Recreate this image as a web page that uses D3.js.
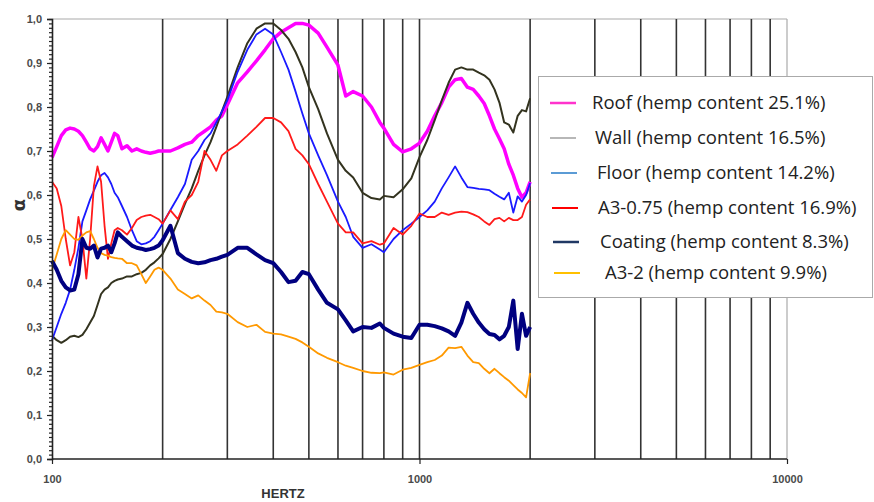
<!DOCTYPE html>
<html><head><meta charset="utf-8">
<script src="https://cdn.jsdelivr.net/npm/d3@7"></script>
<style>body{margin:0;background:#fff}svg{display:block}</style>
</head><body><svg id="c" width="874" height="502"></svg>
<script>
const freqs = [100,103,106,109,112,115,118,121,124,127,130,133,136,139,142,145,148,151,
 155,160,165,170,175,180,185,190,195,200,
 210,220,230,240,250,260,270,280,290,300,
 320,340,360,380,400,420,440,460,480,500,
 530,560,600,630,660,700,740,780,800,850,900,950,1000,
 1050,1100,1150,1200,1250,1300,1350,1400,1450,1500,1550,1600,1650,1700,1750,1800,1850,1900,1950,2000];
const roof = [.685,.71,.735,.748,.752,.75,.745,.735,.72,.705,.70,.71,.73,.715,.70,.72,.74,.735,
 .705,.712,.70,.705,.70,.697,.695,.697,.70,.70,
 .70,.707,.715,.72,.735,.745,.755,.77,.78,.805,
 .855,.88,.905,.93,.955,.97,.98,.99,.99,.986,
 .968,.936,.895,.825,.835,.825,.80,.765,.752,.715,.698,.705,.718,
 .745,.78,.81,.845,.862,.865,.845,.84,.825,.808,.78,.75,.728,.705,.67,.645,.615,.595,.605,.63];
const wall = [.28,.27,.264,.27,.278,.28,.277,.282,.295,.31,.325,.35,.375,.385,.39,.40,.405,.408,
 .41,.415,.415,.42,.423,.43,.44,.447,.456,.466,
 .50,.54,.58,.615,.655,.69,.72,.755,.79,.823,
 .89,.945,.978,.99,.99,.975,.955,.925,.89,.845,
 .795,.74,.68,.655,.64,.605,.593,.59,.598,.595,.613,.638,.686,
 .725,.77,.815,.855,.885,.89,.885,.885,.878,.872,.862,.84,.81,.765,.76,.742,.78,.793,.79,.82];
const floor = [.27,.30,.33,.355,.385,.43,.48,.54,.565,.59,.61,.63,.645,.65,.64,.625,.605,.595,
 .575,.55,.52,.495,.488,.49,.495,.505,.52,.535,
 .566,.595,.625,.68,.70,.725,.74,.765,.79,.815,
 .88,.93,.965,.978,.965,.925,.885,.835,.785,.74,
 .69,.645,.585,.55,.505,.48,.488,.476,.47,.50,.52,.535,.55,
 .565,.585,.615,.64,.665,.64,.618,.616,.614,.613,.611,.603,.596,.59,.605,.56,.597,.585,.60,.627];
const a3_075 = [.63,.615,.575,.50,.44,.47,.55,.50,.41,.50,.62,.665,.63,.53,.455,.49,.52,.525,
 .52,.51,.525,.543,.55,.553,.555,.55,.545,.535,
 .565,.545,.585,.60,.63,.70,.68,.655,.69,.70,
 .715,.735,.755,.775,.775,.765,.745,.705,.69,.67,
 .625,.585,.535,.515,.515,.49,.495,.487,.49,.525,.51,.53,.558,
 .55,.55,.56,.555,.56,.562,.561,.556,.55,.54,.532,.545,.548,.54,.548,.543,.543,.55,.578,.59];
const coating = [.45,.43,.405,.39,.383,.385,.42,.50,.48,.478,.485,.458,.478,.48,.485,.47,.49,.515,
 .505,.495,.485,.48,.478,.475,.477,.48,.485,.497,
 .53,.468,.455,.448,.445,.447,.452,.455,.46,.464,
 .48,.48,.465,.452,.445,.425,.402,.405,.425,.42,
 .385,.355,.34,.315,.29,.30,.298,.308,.298,.285,.278,.275,.305,
 .305,.302,.297,.29,.28,.31,.355,.33,.31,.295,.284,.282,.272,.28,.30,.36,.25,.33,.28,.30];
const a3_2 = [.43,.465,.50,.52,.51,.50,.498,.508,.515,.518,.50,.48,.468,.464,.462,.459,.457,.456,
 .455,.445,.445,.44,.42,.40,.415,.43,.435,.43,
 .41,.385,.375,.365,.372,.36,.35,.335,.333,.33,
 .311,.30,.305,.289,.285,.283,.278,.273,.265,.255,
 .24,.23,.22,.212,.207,.20,.196,.195,.197,.192,.203,.207,.214,
 .22,.225,.235,.253,.252,.255,.235,.22,.218,.205,.195,.205,.195,.186,.178,.168,.158,.15,.14,.195];

const seriesNames = ["Roof (hemp content 25.1%)","Wall (hemp content 16.5%)","Floor (hemp content 14.2%)",
 "A3-0.75 (hemp content 16.9%)","Coating (hemp content 8.3%)","A3-2 (hemp content 9.9%)"];
const yTicks = [0,0.1,0.2,0.3,0.4,0.5,0.6,0.7,0.8,0.9,1.0];
const xTicks = [100,1000,10000];
const gridFreqs = [200,300,400,500,600,700,800,900,1000,2000,3000,4000,5000,6000,7000,8000,9000];

const svg = d3.select("#c");
const x = d3.scaleLog().domain([100,10000]).range([52,787]);
const y = d3.scaleLinear().domain([0,1]).range([459,19]);

// frame
svg.append("line").attr("x1",52).attr("x2",787).attr("y1",19).attr("y2",19).attr("stroke","#aaa").attr("stroke-width",1.2);
svg.append("line").attr("x1",787).attr("x2",787).attr("y1",19).attr("y2",459).attr("stroke","#aaa").attr("stroke-width",1.2);
// grid
svg.append("g").selectAll("line").data(gridFreqs).join("line")
 .attr("x1",d=>x(d)).attr("x2",d=>x(d)).attr("y1",19).attr("y2",459)
 .attr("stroke","#333").attr("stroke-width",1.6);

// lines
const colors = ["#ff00ff","#33331f","#1a1aff","#ff1a1a","#000080","#ff9900"];
const widths = [3.5,2,1.8,1.8,4,1.8];
const data = [roof,wall,floor,a3_075,coating,a3_2];
const line = d3.line().x((d,i)=>x(freqs[i])).y(d=>y(d));
const order = [0,1,2,3,5,4];
order.forEach(k=>{
 svg.append("path").datum(data[k]).attr("d",line).attr("fill","none")
  .attr("stroke",colors[k]).attr("stroke-width",widths[k]).attr("stroke-linejoin","round");
});

// axes
const fmt = d=>d3.format(".1f")(d).replace(".",",");
const ya = svg.append("g").attr("transform","translate(52,0)")
 .call(d3.axisLeft(y).tickValues(yTicks).tickFormat(fmt).tickSize(5).tickPadding(5));
const yminor = svg.append("g").attr("transform","translate(52,0)")
 .call(d3.axisLeft(y).tickValues(d3.range(0,101).map(i=>i/100)).tickFormat("").tickSize(3));
yminor.select(".domain").remove();
const xa = svg.append("g").attr("transform","translate(0,459)")
 .call(d3.axisBottom(x).tickValues(xTicks).tickFormat(d3.format("d")).tickSize(5).tickPadding(11));
[ya,yminor,xa].forEach(g=>{
 g.selectAll(".domain").attr("stroke","#222").attr("stroke-width",1.6);
 g.selectAll(".tick line").attr("stroke","#222").attr("stroke-width",1.2);
 g.selectAll("text").attr("font-family","Liberation Sans, Arial, sans-serif").attr("font-size",11)
  .attr("font-weight","bold").attr("fill","#4a4a4a");
});
xa.selectAll(".domain").attr("d","M52,0H787");

svg.append("text").attr("x",283).attr("y",498).attr("text-anchor","middle")
 .attr("font-family","Liberation Sans, Arial, sans-serif").attr("font-weight","bold").attr("font-size",13)
 .attr("fill","#333").text("HERTZ");
svg.append("text").attr("transform","translate(25,205) rotate(-90)").attr("text-anchor","middle")
 .attr("font-family","DejaVu Sans, sans-serif").attr("font-weight","bold").attr("font-size",18)
 .attr("fill","#333").text("α");

// legend
const lg = svg.append("g");
lg.append("rect").attr("x",538.5).attr("y",76.5).attr("width",334).attr("height",221)
 .attr("fill","#fff").attr("stroke","#aaa").attr("stroke-width",1);
const legColors = ["#ff33cc","#888","#5b9bd5","#ff0000","#203864","#ffc000"];
const legW = [2.5,1.2,2,2,2.5,2];
const legY = [103,138,173,208,242,273];
const legTx = [592,595,597,598,600,605];
const legLx = [550,550,551,552,553,554];
seriesNames.forEach((n,i)=>{
 lg.append("line").attr("x1",legLx[i]).attr("x2",legLx[i]+26).attr("y1",legY[i]).attr("y2",legY[i])
  .attr("stroke",legColors[i]).attr("stroke-width",legW[i]);
 lg.append("text").attr("x",legTx[i]).attr("y",legY[i]+6).attr("font-family","Open Sans, sans-serif")
  .attr("font-size",18.5).attr("fill","#222").text(n);
});
</script></body></html>
